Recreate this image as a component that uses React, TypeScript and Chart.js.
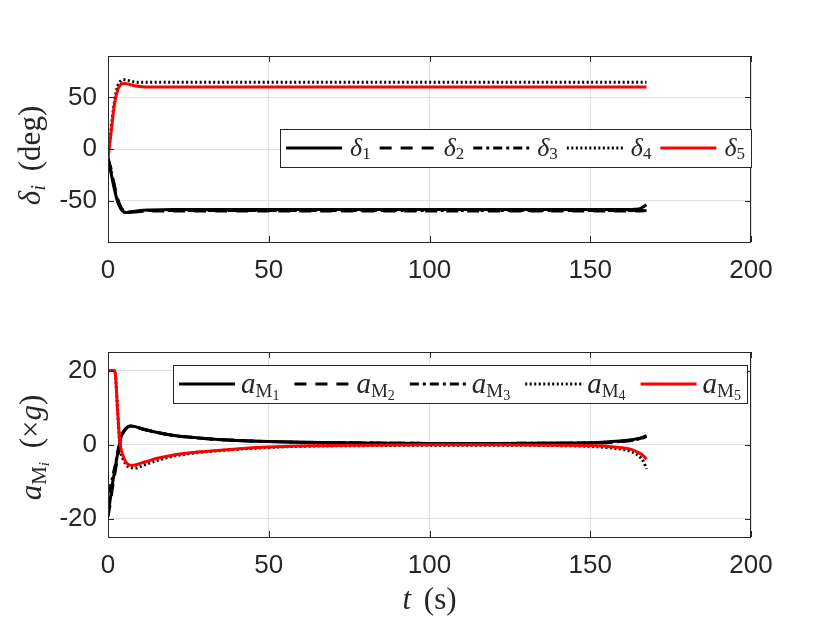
import { useEffect, useRef } from 'react';
import { Chart, registerables } from 'chart.js';
import type { ChartConfiguration, Plugin } from 'chart.js';

Chart.register(...registerables);

// ---- data -------------------------------------------------------------

const xTickValues = [0, 50, 100, 150, 200];

// upper panel: delta_i (deg)
const timeTop = [0, 1, 2, 3, 4, 5, 6, 8, 10, 13, 20, 40, 80, 120, 160, 165, 167.5];
const delta1 = [-9, -24, -39, -51, -58, -61, -61.5, -60.5, -59.5, -59, -58.5, -58.5, -58.5, -58.5, -58.5, -58, -54];
const delta2 = [-9, -20, -35, -48, -56, -60, -61, -61, -60.5, -60, -60, -60, -60, -60, -60, -60, -59.5];
const delta3 = [-9, -22, -37, -50, -57, -60.5, -61, -60.5, -60, -59.5, -59.5, -59.5, -59.5, -59.5, -59.5, -59.5, -59];
const delta4 = [-8, 20, 46, 61, 66, 67, 66.5, 65, 64.5, 64.5, 64.5, 64.5, 64.5, 64.5, 64.5, 64.5, 64.5];
const delta5 = [-9, 17, 43, 57, 62.5, 63.5, 63, 61.5, 60.5, 60, 60, 60, 60, 60, 60, 60, 60];
const deltaTicks = [-50, 0, 50];

// lower panel: a_Mi (x g)
const timeBottom = [0, 0.5, 1, 1.5, 2, 2.3, 3, 3.6, 4, 5, 6, 7, 8, 9, 10, 12, 15, 20, 25, 30, 40, 50, 60, 80, 100, 120, 140, 150, 155, 160, 163, 165, 166.5, 167.5];
const accel1 = [-18.5, -16, -13, -10, -7.5, -6, -2.5, 0, 1.8, 3.8, 4.7, 5, 4.9, 4.7, 4.4, 3.9, 3.3, 2.5, 2, 1.6, 1.1, 0.8, 0.6, 0.4, 0.3, 0.3, 0.4, 0.5, 0.7, 1, 1.3, 1.6, 2, 2.4];
const accel2 = [-19.5, -17, -14, -11, -8.5, -7, -3.5, -0.6, 1.5, 3.5, 4.6, 5, 4.9, 4.7, 4.4, 3.9, 3.3, 2.5, 2, 1.6, 1.1, 0.8, 0.6, 0.4, 0.3, 0.3, 0.3, 0.4, 0.5, 0.8, 1.1, 1.4, 1.8, 2.2];
const accel3 = [-13, -12, -10.5, -8.5, -6.5, -5.5, -2, 0.3, 2, 3.7, 4.6, 5, 4.9, 4.7, 4.4, 3.9, 3.3, 2.5, 2, 1.6, 1.1, 0.8, 0.6, 0.4, 0.3, 0.3, 0.35, 0.45, 0.6, 0.9, 1.2, 1.5, 1.9, 2.3];
const accel4 = [20, 20, 20, 20, 20, 19, 9, 1, -2, -4.5, -5.8, -6.2, -6.4, -6.3, -6, -5.3, -4.4, -3.2, -2.5, -2, -1.3, -0.8, -0.5, -0.3, -0.2, -0.2, -0.3, -0.5, -0.8, -1.3, -2, -3, -4.5, -6.6];
const accel5 = [20, 20, 20, 20, 20, 19, 9, 1.5, -1, -3.8, -5.2, -5.6, -5.6, -5.4, -5.1, -4.6, -3.8, -2.9, -2.3, -1.9, -1.2, -0.7, -0.4, -0.2, -0.1, -0.1, -0.2, -0.3, -0.5, -0.9, -1.4, -2.2, -3, -4];
const accelTicks = [-20, 0, 20];

const seriesIndex = ['1', '2', '3', '4', '5'];
const seriesColors = ['#000000', '#000000', '#000000', '#000000', '#ff0000'];
const seriesDashes = [[], [12, 9], [9, 4, 3, 4], [2, 2.5], []];

// ---- drawing helpers ----------------------------------------------------

const SERIF = '"Liberation Serif", "DejaVu Serif", serif';
const SANS = '"Liberation Sans", Arial, sans-serif';
const INK = '#262626';
const GRID = '#dfdfdf';
const TICK_LEN = 6;

// a piece of mixed-font text; pad adds extra advance after it
type Run = { text: string; font: string; dy?: number; pad?: number };

function runsWidth(ctx: CanvasRenderingContext2D, runs: Run[]) {
  let w = 0;
  for (const r of runs) {
    ctx.font = r.font;
    w += ctx.measureText(r.text).width + (r.pad || 0);
  }
  return w;
}

function drawRuns(ctx: CanvasRenderingContext2D, runs: Run[], x: number, y: number) {
  ctx.textBaseline = 'alphabetic';
  ctx.textAlign = 'left';
  for (const r of runs) {
    ctx.font = r.font;
    ctx.fillText(r.text, x, y + (r.dy || 0));
    x += ctx.measureText(r.text).width + (r.pad || 0);
  }
}

const deltaRuns = (k: string): Run[] => [
  { text: 'δ', font: `italic 26px ${SERIF}` },
  { text: k, font: `17px ${SERIF}`, dy: 3 },
];

const accelRuns = (k: string): Run[] => [
  { text: 'a', font: `italic 29px ${SERIF}` },
  { text: 'M', font: `19px ${SERIF}`, dy: 4 },
  { text: k, font: `14px ${SERIF}`, dy: 7 },
];

interface PanelProps {
  top: number;
  height: number;
  areaTop: number;
  areaBottom: number;
  xs: number[];
  series: number[][];
  yMin: number;
  yMax: number;
  yTicks: number[];
  labelRuns: (k: string) => Run[];
  legendTop: number;
  legendRight: number;
  legendHeight: number;
  legendBaseline: number;
  legendGapText: number;
  legendGapItem: number;
  yTitle: Run[];
  yTitleX: number;
  yTitleShift: number;
  xTitle?: Run[];
  xTitleBaseline?: number;
}

function Panel(p: PanelProps) {
  const canvasRef = useRef<HTMLCanvasElement>(null);

  useEffect(() => {
    if (!canvasRef.current) return;

    const decor: Plugin<'line'> = {
      id: 'decor',
      afterDraw(chart) {
        const { ctx, chartArea: a, scales } = chart;
        ctx.save();

        // axes box and inward ticks
        ctx.strokeStyle = INK;
        ctx.lineWidth = 1;
        ctx.setLineDash([]);
        ctx.beginPath();
        for (const v of xTickValues) {
          const px = Math.round(scales.x.getPixelForValue(v)) + 0.5;
          ctx.moveTo(px, a.bottom);
          ctx.lineTo(px, a.bottom - TICK_LEN);
          ctx.moveTo(px, a.top);
          ctx.lineTo(px, a.top + TICK_LEN);
        }
        for (const v of p.yTicks) {
          const py = Math.round(scales.y.getPixelForValue(v)) + 0.5;
          ctx.moveTo(a.left, py);
          ctx.lineTo(a.left + TICK_LEN, py);
          ctx.moveTo(a.right, py);
          ctx.lineTo(a.right - TICK_LEN, py);
        }
        ctx.stroke();
        ctx.strokeRect(Math.round(a.left) + 0.5, Math.round(a.top) + 0.5, Math.round(a.right - a.left) - 1, Math.round(a.bottom - a.top));

        // legend
        const sample = 56;
        const padL = 6;
        const padR = 6;
        const runs = seriesIndex.map((k) => p.labelRuns(k));
        const widths = runs.map((r) => runsWidth(ctx, r));
        let total = padL + padR;
        widths.forEach((w, i) => {
          total += sample + p.legendGapText + w + (i < widths.length - 1 ? p.legendGapItem : 0);
        });
        const right = a.right - p.legendRight;
        const left = right - total;
        const top = a.top + p.legendTop;
        const cy = top + p.legendHeight / 2;
        ctx.fillStyle = '#ffffff';
        ctx.fillRect(left, top, total, p.legendHeight);
        ctx.strokeStyle = INK;
        ctx.lineWidth = 1;
        ctx.strokeRect(Math.round(left) + 0.5, Math.round(top) + 0.5, Math.round(total), Math.round(p.legendHeight));
        let x = left + padL;
        runs.forEach((r, i) => {
          ctx.strokeStyle = seriesColors[i];
          ctx.lineWidth = 3;
          ctx.setLineDash(seriesDashes[i]);
          ctx.beginPath();
          ctx.moveTo(x, cy);
          ctx.lineTo(x + sample, cy);
          ctx.stroke();
          ctx.setLineDash([]);
          x += sample + p.legendGapText;
          ctx.fillStyle = INK;
          drawRuns(ctx, r, x, cy + p.legendBaseline);
          x += widths[i] + p.legendGapItem;
        });

        // axis titles
        ctx.fillStyle = INK;
        const yw = runsWidth(ctx, p.yTitle);
        const cyTitle = (a.top + a.bottom) / 2 + p.yTitleShift;
        ctx.save();
        ctx.translate(p.yTitleX, cyTitle);
        ctx.rotate(-Math.PI / 2);
        drawRuns(ctx, p.yTitle, -yw / 2, 0);
        ctx.restore();
        if (p.xTitle && p.xTitleBaseline !== undefined) {
          const xw = runsWidth(ctx, p.xTitle);
          drawRuns(ctx, p.xTitle, (a.left + a.right) / 2 - xw / 2, p.xTitleBaseline);
        }
        ctx.restore();
      },
    };

    const config: ChartConfiguration<'line'> = {
      type: 'line',
      data: {
        datasets: p.series.map((ys, i) => ({
          label: seriesIndex[i],
          data: ys.map((y, j) => ({ x: p.xs[j], y })),
          borderColor: seriesColors[i],
          borderDash: seriesDashes[i],
          borderWidth: 3,
          pointRadius: 0,
          cubicInterpolationMode: 'monotone' as const,
          fill: false,
          order: p.series.length - i,
        })),
      },
      options: {
        animation: false,
        responsive: false,
        maintainAspectRatio: false,
        events: [],
        layout: { padding: { top: p.areaTop, left: 0, right: 830 - 751, bottom: 0 } },
        plugins: { legend: { display: false }, tooltip: { enabled: false } },
        scales: {
          x: {
            type: 'linear',
            min: 0,
            max: 200,
            afterFit: (s) => {
              s.height = p.height - p.areaBottom;
            },
            afterBuildTicks: (s) => {
              s.ticks = xTickValues.map((value) => ({ value }));
            },
            grid: { color: GRID, drawTicks: false },
            border: { display: false },
            ticks: { color: INK, padding: 13, maxRotation: 0, font: { family: SANS, size: 26 } },
          },
          y: {
            type: 'linear',
            min: p.yMin,
            max: p.yMax,
            afterFit: (s) => {
              s.width = 108;
            },
            afterBuildTicks: (s) => {
              s.ticks = p.yTicks.map((value) => ({ value }));
            },
            grid: { color: GRID, drawTicks: false },
            border: { display: false },
            ticks: { color: INK, padding: 11, font: { family: SANS, size: 26 } },
          },
        },
      },
      plugins: [decor],
    };

    const chart = new Chart(canvasRef.current, config);
    return () => chart.destroy();
  }, [p]);

  return (
    <canvas
      ref={canvasRef}
      width={830}
      height={p.height}
      style={{ position: 'absolute', left: 0, top: p.top, display: 'block' }}
    />
  );
}

const upperProps: PanelProps = {
  top: 0,
  height: 311,
  areaTop: 56,
  areaBottom: 242,
  xs: timeTop,
  series: [delta1, delta2, delta3, delta4, delta5],
  yMin: -90,
  yMax: 90,
  yTicks: deltaTicks,
  labelRuns: deltaRuns,
  legendTop: 73,
  legendRight: 0,
  legendHeight: 38,
  legendBaseline: 8,
  legendGapText: 8,
  legendGapItem: 9,
  yTitle: [
    { text: 'δ', font: `italic 31px ${SERIF}` },
    { text: 'i', font: `italic 21px ${SERIF}`, dy: 5, pad: 3 },
    { text: ' ', font: `31px ${SERIF}`, pad: 3 },
    { text: '(deg)', font: `31px ${SERIF}`, pad: 1 },
  ],
  yTitleX: 40,
  yTitleShift: 6,
};

const lowerProps: PanelProps = {
  top: 311,
  height: 312,
  areaTop: 41,
  areaBottom: 226,
  xs: timeBottom,
  series: [accel1, accel2, accel3, accel4, accel5],
  yMin: -25,
  yMax: 25,
  yTicks: accelTicks,
  labelRuns: accelRuns,
  legendTop: 13,
  legendRight: 4,
  legendHeight: 38,
  legendBaseline: 9,
  legendGapText: 6,
  legendGapItem: 15,
  yTitle: [
    { text: 'a', font: `italic 31px ${SERIF}` },
    { text: 'M', font: `21px ${SERIF}`, dy: 5 },
    { text: 'i', font: `italic 15px ${SERIF}`, dy: 8, pad: 3 },
    { text: ' ', font: `31px ${SERIF}`, pad: 3 },
    { text: '(×', font: `31px ${SERIF}` },
    { text: 'g', font: `italic 31px ${SERIF}` },
    { text: ')', font: `31px ${SERIF}` },
  ],
  yTitleX: 41,
  yTitleShift: 3,
  xTitle: [
    { text: 't', font: `italic 31px ${SERIF}` },
    { text: ' ', font: `31px ${SERIF}`, pad: 5 },
    { text: '(s)', font: `31px ${SERIF}` },
  ],
  xTitleBaseline: 298,
};

export default function App() {
  return (
    <div style={{ position: 'absolute', left: 0, top: 0, width: 830, height: 623, background: '#ffffff' }}>
      <Panel {...upperProps} />
      <Panel {...lowerProps} />
    </div>
  );
}
